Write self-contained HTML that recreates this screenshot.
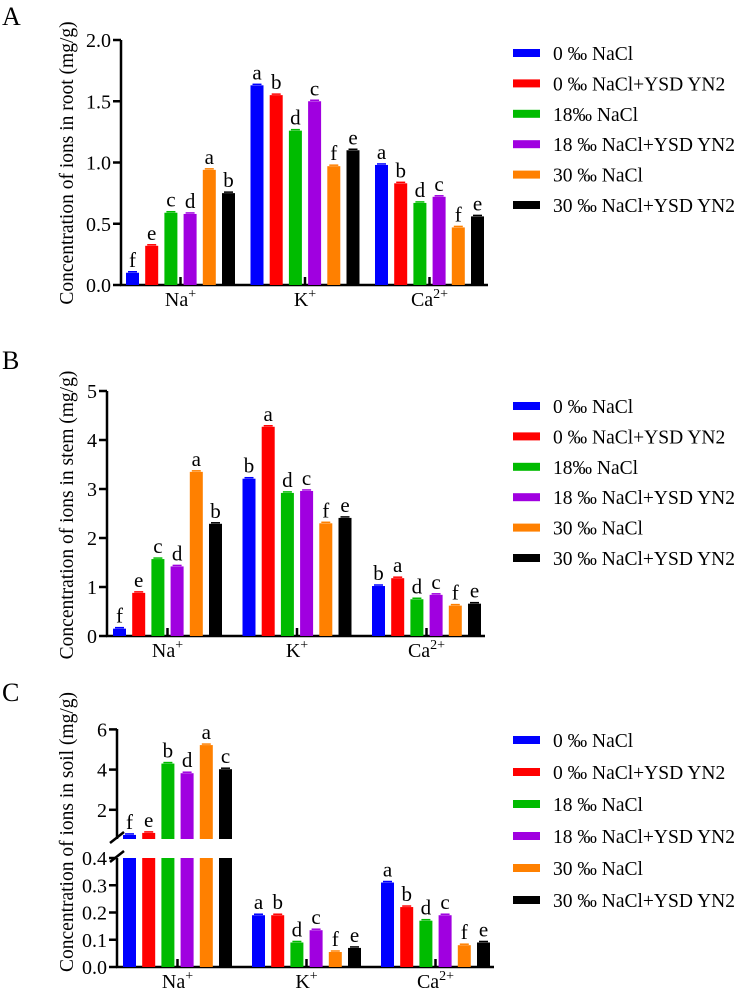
<!DOCTYPE html>
<html><head><meta charset="utf-8"><style>
body{margin:0;background:#fff;width:744px;height:989px;overflow:hidden}
svg{display:block}
svg text{font-family:"Liberation Serif","Times New Roman","DejaVu Serif",serif}
</style></head><body>
<svg id="fig" width="744" height="989" viewBox="0 0 744 989" xmlns="http://www.w3.org/2000/svg"></svg>
<script>
const categories = ["Na", "K", "Ca"];
const catSup = ["+", "+", "2+"];
const seriesNames = ["0 ‰ NaCl", "0 ‰ NaCl+YSD YN2", "18‰ NaCl", "18 ‰ NaCl+YSD YN2", "30 ‰ NaCl", "30 ‰ NaCl+YSD YN2"];
const seriesNamesC = ["0 ‰ NaCl", "0 ‰ NaCl+YSD YN2", "18 ‰ NaCl", "18 ‰ NaCl+YSD YN2", "30 ‰ NaCl", "30 ‰ NaCl+YSD YN2"];
const colors = ["#0000ff", "#ff0000", "#00bb00", "#a000e0", "#ff8000", "#000000"];
const rootNa = [0.10, 0.32, 0.59, 0.58, 0.94, 0.75];
const rootK = [1.63, 1.55, 1.26, 1.50, 0.97, 1.10];
const rootCa = [0.98, 0.83, 0.67, 0.72, 0.47, 0.56];
const rootLetters = [["f","e","c","d","a","b"],["a","b","d","c","f","e"],["a","b","d","c","f","e"]];
const stemNa = [0.15, 0.88, 1.57, 1.42, 3.35, 2.29];
const stemK = [3.21, 4.27, 2.92, 2.96, 2.30, 2.41];
const stemCa = [1.02, 1.18, 0.75, 0.84, 0.62, 0.66];
const stemLetters = [["f","e","c","d","a","b"],["b","a","d","c","f","e"],["b","a","d","c","f","e"]];
const soilNa = [0.75, 0.85, 4.30, 3.82, 5.22, 4.02];
const soilK = [0.19, 0.19, 0.09, 0.135, 0.055, 0.07];
const soilCa = [0.31, 0.22, 0.17, 0.19, 0.08, 0.09];
const soilLetters = [["f","e","b","d","a","c"],["a","b","d","c","f","e"],["a","b","d","c","f","e"]];
const rootTicks = ["0.0", "0.5", "1.0", "1.5", "2.0"];
const stemTicks = ["0", "1", "2", "3", "4", "5"];
const soilLowTicks = ["0.0", "0.1", "0.2", "0.3", "0.4"];
const soilHighTicks = ["2", "4", "6"];

const svg = document.getElementById('fig');
const NS = "http://www.w3.org/2000/svg";
function el(tag, attrs, parent) {
  const e = document.createElementNS(NS, tag);
  for (const k in attrs) e.setAttribute(k, attrs[k]);
  (parent || svg).appendChild(e);
  return e;
}
function txt(x, y, s, size, anchor, parent) {
  const t = el('text', {x: x, y: y, 'font-size': size, 'text-anchor': anchor || 'start', fill: '#000',
    'font-family': '"Liberation Serif", "Times New Roman", "DejaVu Serif", serif'}, parent);
  t.textContent = s;
  return t;
}

function panel(cfg) {
  const g = el('g', {});
  
  
  const lab = txt(2, cfg.labelY, cfg.label, 26, 'start', g);
  
  
  const data = cfg.data;
  const barW = 13, pitch = 19.2;
  const xEnd = cfg.g0 + 2 * cfg.gp + 5 * pitch + barW + 4;
  const ax = el('g', {}, g);
  
  
  cfg.yAxisSegments.forEach(seg => {
    el('line', {x1: cfg.ax, x2: cfg.ax, y1: seg[0], y2: seg[1], stroke: '#000', 'stroke-width': 2.5}, ax);
  });
  cfg.ticks.forEach(tk => {
    const y = tk.scale(tk.v);
    el('line', {x1: cfg.ax - 8, x2: cfg.ax, y1: y, y2: y, stroke: '#000', 'stroke-width': 2.5}, ax);
    txt(cfg.ax - 10, y + 7, tk.label, 20, 'end', ax);
  });
  const xa = el('line', {x1: cfg.ax - 1, x2: xEnd, y1: cfg.base, y2: cfg.base, stroke: '#000', 'stroke-width': 2.5}, g);
  
  
  const tt = txt(0, 0, cfg.title, 19.5, 'middle', g);
  tt.setAttribute('transform', `translate(${cfg.titleX},${cfg.titleY}) rotate(-90)`);
  
  
  data.forEach((vals, ci) => {
    const gx = cfg.g0 + ci * cfg.gp;
    vals.forEach((v, si) => {
      const x = gx + si * pitch;
      const y = cfg.scaleFor(ci, v);
      if (cfg.broken && ci === 0) {
        const b1 = el('rect', {x: x, y: cfg.lowTop, width: barW, height: cfg.base - cfg.lowTop, fill: colors[si]}, g);
        
        
        const b2 = el('rect', {x: x, y: y, width: barW, height: cfg.highBottom - y, fill: colors[si]}, g);
        
        
      } else {
        const b = el('rect', {x: x, y: y, width: barW, height: cfg.base - y, fill: colors[si]}, g);
        
        
      }
      el('line', {x1: x + 2, x2: x + barW - 2, y1: y - 1, y2: y - 1, stroke: colors[si], 'stroke-width': 1.5}, g);
      const lt = txt(x + barW / 2, y - 6, cfg.letters[ci][si], 21, 'middle', g);
      
      
    });
    const cx = gx + (5 * pitch + barW) / 2;
    el('line', {x1: cx, x2: cx, y1: cfg.base, y2: cfg.base - 8, stroke: '#000', 'stroke-width': 2.5}, g);
    const cl = txt(cx, cfg.base + 21, '', 20, 'middle', g);
    
    
    const t1 = document.createElementNS(NS, 'tspan'); t1.textContent = categories[ci]; cl.appendChild(t1);
    const t2 = document.createElementNS(NS, 'tspan'); t2.textContent = catSup[ci];
    t2.setAttribute('dy', -8); t2.setAttribute('font-size', 14); cl.appendChild(t2);
  });
  const lg = el('g', {}, g);
  
  
  cfg.legendNames.forEach((n, i) => {
    const y = cfg.legY + i * cfg.legP;
    const e = el('g', {}, lg);
    
    
    el('rect', {x: 513, y: y - 4, width: 27, height: 8, fill: colors[i]}, e);
    txt(553, y + 7, n, 19.5, 'start', e);
  });
}

const sA = v => 285 - v * 122.5;
panel({name: 'panel-a-root', label: 'A', labelY: 25, data: [rootNa, rootK, rootCa], letters: rootLetters,
  ax: 121, base: 285, g0: 126, gp: 124.5, scaleFor: (c, v) => sA(v),
  yAxisSegments: [[40, 286]], ticks: rootTicks.map(l => ({v: parseFloat(l), label: l, scale: sA})),
  title: 'Concentration of ions in root (mg/g)', titleX: 73, titleY: 163,
  legendNames: seriesNames, legY: 53, legP: 30.4});
const sB = v => 636 - v * 49;
panel({name: 'panel-b-stem', label: 'B', labelY: 369, data: [stemNa, stemK, stemCa], letters: stemLetters,
  ax: 107, base: 636, g0: 113, gp: 129.5, scaleFor: (c, v) => sB(v),
  yAxisSegments: [[391, 637]], ticks: stemTicks.map(l => ({v: parseFloat(l), label: l, scale: sB})),
  title: 'Concentration of ions in stem (mg/g)', titleX: 73, titleY: 515,
  legendNames: seriesNames, legY: 406, legP: 30.4});
const sCl = v => 967 - v * 272.5;
const sCh = v => 850 - v * 20.1;
panel({name: 'panel-c-soil', label: 'C', labelY: 701, data: [soilNa, soilK, soilCa], letters: soilLetters,
  ax: 117, base: 967, g0: 123, gp: 129, broken: true, lowTop: 858, highBottom: 839,
  scaleFor: (c, v) => c === 0 ? sCh(v) : sCl(v),
  yAxisSegments: [[729, 839], [858, 968]],
  ticks: soilLowTicks.map(l => ({v: parseFloat(l), label: l, scale: sCl})).concat(soilHighTicks.map(l => ({v: parseFloat(l), label: l, scale: sCh}))),
  title: 'Concentration of ions in soil (mg/g)', titleX: 73, titleY: 832,
  legendNames: seriesNamesC, legY: 740, legP: 32});
const br1 = el('line', {x1: 110, y1: 843, x2: 124, y2: 832, stroke: '#000', 'stroke-width': 2.5});


const br2 = el('line', {x1: 110, y1: 862, x2: 124, y2: 851, stroke: '#000', 'stroke-width': 2.5});


</script>
</body></html>
